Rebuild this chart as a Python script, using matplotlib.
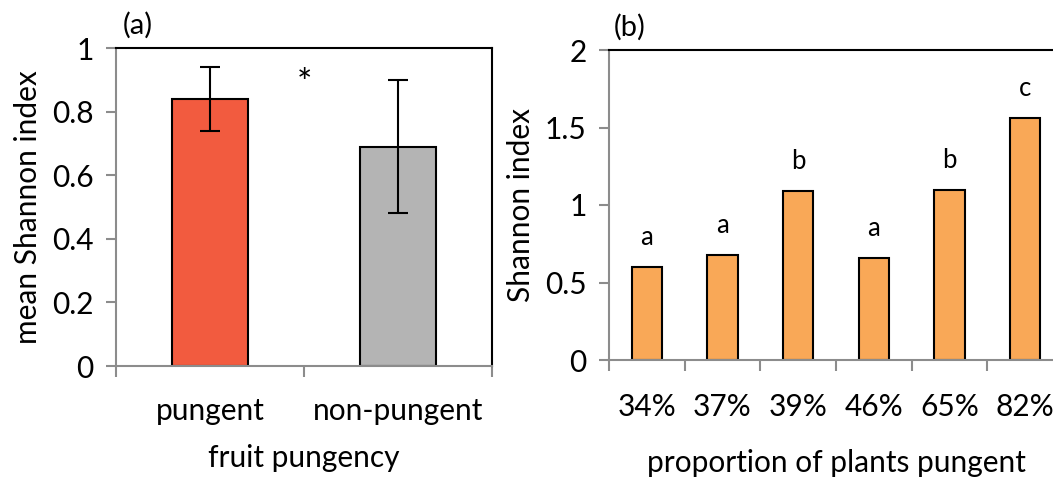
import matplotlib
matplotlib.use('Agg')
import matplotlib.pyplot as plt
import numpy as np

plt.rcParams['font.family'] = ['Lato', 'DejaVu Sans']

# panel (a)
pung_cats = ['pungent', 'non-pungent']
pung_means = [0.84, 0.69]
pung_lo = [0.74, 0.48]
pung_hi = [0.94, 0.90]
pung_colors = ['#F25B3F', '#B4B4B4']

# panel (b)
prop_cats = ['34%', '37%', '39%', '46%', '65%', '82%']
prop_vals = [0.60, 0.68, 1.09, 0.66, 1.10, 1.56]
prop_letters = ['a', 'a', 'b', 'a', 'b', 'c']

W, H = 1053, 478
fig = plt.figure(figsize=(W / 100, H / 100), dpi=100)

def px_axes(l, r, t, b):
    return fig.add_axes([l / W, (H - b) / H, (r - l) / W, (b - t) / H])

grey = '#8C8C8C'
FS = 21.5

def style(ax):
    for s in ['left', 'bottom']:
        ax.spines[s].set_color(grey)
        ax.spines[s].set_linewidth(1.5)
    for s in ['top', 'right']:
        ax.spines[s].set_color('black')
        ax.spines[s].set_linewidth(1.5)
    ax.tick_params(axis='y', which='major', direction='out', length=7, width=1.5,
                   color=grey, labelsize=FS, pad=9)
    ax.tick_params(axis='x', which='major', direction='out', length=8, width=1.5,
                   color=grey, labelbottom=False)
    ax.tick_params(axis='x', which='minor', length=0, labelsize=FS, pad=22)

# ---- (a)
ax1 = px_axes(116, 492, 48, 366)
x1 = np.arange(len(pung_cats))
m = np.array(pung_means)
err = [m - np.array(pung_lo), np.array(pung_hi) - m]
ax1.bar(x1, m, width=0.404, color=pung_colors, edgecolor='black', linewidth=1.5, zorder=2)
ax1.errorbar(x1, m, yerr=err, fmt='none', ecolor='black', elinewidth=1.5,
             capsize=7, capthick=1.5, zorder=3)
ax1.set_xlim(-0.5, 1.5)
ax1.set_ylim(0, 1)
ax1.set_yticks([0, 0.2, 0.4, 0.6, 0.8, 1])
ax1.set_yticklabels(['0', '0.2', '0.4', '0.6', '0.8', '1'])
ax1.set_xticks([-0.5, 0.5, 1.5])
ax1.set_xticks(x1, minor=True)
ax1.set_xticklabels(pung_cats, minor=True)
style(ax1)
ax1.set_ylabel('mean Shannon index', fontsize=FS, labelpad=7)
ax1.set_xlabel('fruit pungency', fontsize=FS, labelpad=14)
ax1.text(0.5, 0.885, '*', ha='center', va='center', fontsize=26)
fig.text(123 / W, 1 - 25 / H, '(a)', fontsize=21, va='center', ha='left')

# ---- (b)
ax2 = px_axes(609, 1063, 50, 360)
x2 = np.arange(len(prop_cats))
ax2.bar(x2, prop_vals, width=0.4, color='#F9A857', edgecolor='black', linewidth=1.5, zorder=2)
for xi, v, lt in zip(x2, prop_vals, prop_letters):
    ax2.text(xi, v + 0.19, lt, ha='center', va='center', fontsize=18.5)
ax2.set_xlim(-0.5, len(prop_cats) - 0.5)
ax2.set_ylim(0, 2)
ax2.set_yticks([0, 0.5, 1, 1.5, 2])
ax2.set_yticklabels(['0', '0.5', '1', '1.5', '2'])
ax2.set_xticks(np.arange(-0.5, len(prop_cats), 1))
ax2.set_xticks(x2, minor=True)
ax2.set_xticklabels(prop_cats, minor=True)
style(ax2)
ax2.tick_params(axis='x', which='minor', pad=24)
ax2.set_ylabel('Shannon index', fontsize=FS, labelpad=7)
ax2.set_xlabel('proportion of plants pungent', fontsize=FS, labelpad=20)
fig.text(614 / W, 1 - 27 / H, '(b)', fontsize=21, va='center', ha='left')

fig.savefig('out.png', dpi=100)
